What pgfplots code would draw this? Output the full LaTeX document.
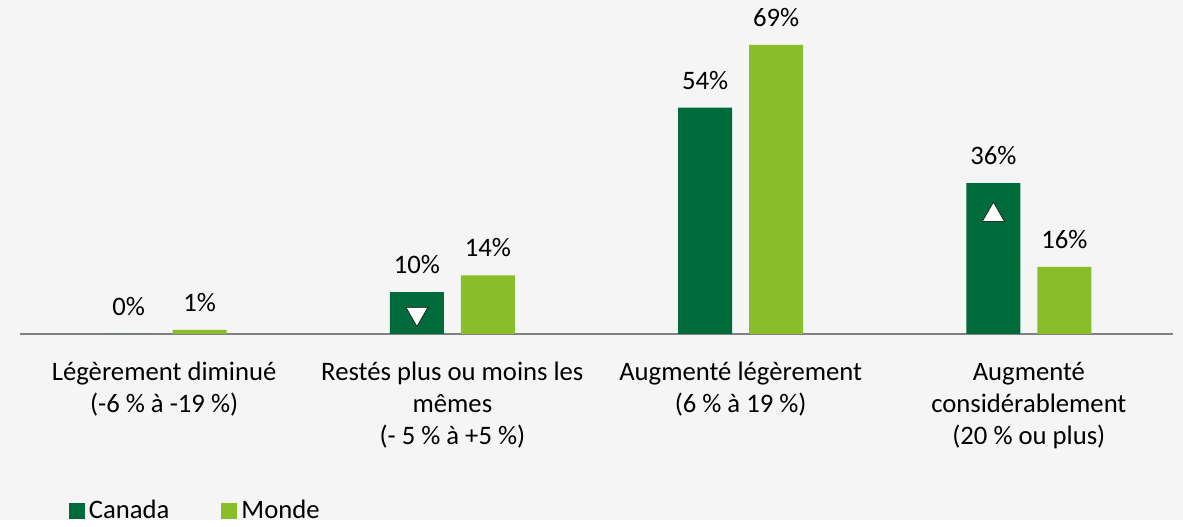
\documentclass[border=0pt]{standalone}
\usepackage{fontspec}
\setmainfont{Carlito}
\usepackage{pgfplots}
\pgfplotsset{compat=1.18}
\definecolor{cdark}{HTML}{006B3A}
\definecolor{clight}{HTML}{8ABD2A}
\definecolor{axisgray}{HTML}{808080}
\definecolor{bggray}{HTML}{F5F5F5}
\begin{document}
\fontsize{20pt}{24pt}\selectfont
\begin{tikzpicture}
\fill[bggray] (-15pt,-139.5pt) rectangle (872.25pt,250.5pt);
\begin{axis}[
  at={(0,0)}, anchor=south west,
  scale only axis, width=864.75pt, height=250.5pt,
  xmin=-0.5, xmax=3.5, ymin=0, ymax=79.7,
  axis x line=bottom, axis y line=none,
  axis line style={draw=axisgray, line width=1.5pt, -},
  xtick={0,1,2,3},
  xticklabels={{Légèrement diminué\\(-6 \% à -19 \%)},
               {Restés plus ou moins les\\mêmes\\(- 5 \% à +5 \%)},
               {Augmenté légèrement\\(6 \% à 19 \%)},
               {Augmenté\\considérablement\\(20 \% ou plus)}},
  major tick length=0pt,
  xticklabel style={align=center, anchor=north, inner sep=0pt, yshift=-21pt,
     font=\fontsize{20pt}{24pt}\selectfont},
  ytick=\empty,
  clip=false,
  bar width=0.187,
  /pgf/number format/assume math mode=true,
  nodes near coords={\pgfmathprintnumber[fixed,precision=0]{\pgfplotspointmeta}\%},
  every node near coord/.append style={anchor=south, inner sep=0pt, yshift=13.5pt,
     font=\fontsize{20pt}{24pt}\selectfont, text=black},
  legend columns=2,
  legend style={at={(0,0)}, anchor=north west, xshift=36.5pt, yshift=-121pt,
     draw=none, fill=none, inner sep=0pt,
     font=\fontsize{20pt}{24pt}\selectfont,
     nodes={inner sep=3pt},
     /tikz/every even column/.append style={column sep=36pt}},
]
\addplot[ybar, bar shift=-0.123, fill=cdark, draw=none,
   every node near coord/.append style={xshift=-26.6pt},
   legend image code/.code={\fill[cdark] (0pt,-6pt) rectangle (12pt,6pt);}]
  coordinates {(0,0) (1,10) (2,54) (3,36)};
\addlegendentry{Canada}
\addplot[ybar, bar shift=0.123, fill=clight, draw=none,
   every node near coord/.append style={xshift=26.6pt},
   legend image code/.code={\fill[clight] (0pt,-6pt) rectangle (12pt,6pt);}]
  coordinates {(0,1) (1,14) (2,69) (3,16)};
\addlegendentry{Monde}
\addplot[only marks, mark=triangle*, mark size=9.5pt, mark options={fill=white, draw=none, rotate=180},
   nodes near coords={}, forget plot]
  coordinates {(0.877,4.85)};
\addplot[only marks, mark=triangle*, mark size=9.5pt, mark options={fill=white, draw=none},
   nodes near coords={}, forget plot]
  coordinates {(2.877,28.4)};
\end{axis}
\end{tikzpicture}
\end{document}
